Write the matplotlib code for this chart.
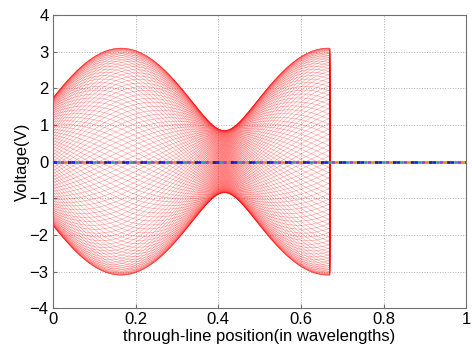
import numpy as np
import matplotlib
matplotlib.use("Agg")
import matplotlib.pyplot as plt

# values
line_length = 0.67      # wavelengths, where the red traces stop
v_max = 3.1             # envelope maximum (V)
v_min = 0.85            # envelope minimum (V)
x_peak = 0.165          # position of first envelope maximum
n_snapshots = 130       # time snapshots drawn
zero_colors = ["#1f1fff", "#20208a", "#e0902a", "#a040c0", "#30a0a0"]
x_ticks = [0, 0.2, 0.4, 0.6, 0.8, 1]
y_ticks = [-4, -3, -2, -1, 0, 1, 2, 3, 4]

plt.rcParams["font.family"] = ["Liberation Sans", "DejaVu Sans"]

fwd = (v_max + v_min) / 2
ref = (v_max - v_min) / 2
beta = 2 * np.pi
phi = 2 * beta * x_peak

x = np.linspace(0, line_length, 400)
phasor = fwd * np.exp(-1j * beta * x) + ref * np.exp(1j * (beta * x - phi))

fig = plt.figure(figsize=(4.72, 3.6), dpi=100)
ax = fig.add_axes([0.112, 0.144, 0.876, 0.814])

for wt in np.linspace(0, 2 * np.pi, n_snapshots, endpoint=False):
    v = np.real(phasor * np.exp(1j * wt))
    ax.plot(np.append(x, line_length), np.append(v, 0), color="red", lw=0.4, alpha=0.4, zorder=2)

seg = 1.3
gap = seg * (len(zero_colors) - 1)
for i, c in enumerate(zero_colors):
    ax.plot([0, 1], [0, 0], color=c, lw=2.0, zorder=3,
            linestyle=(i * seg, (seg, gap)), dash_capstyle="butt")

ax.set_xlim(0, 1)
ax.set_ylim(-4, 4)
ax.set_xticks(x_ticks)
ax.set_xticklabels(["0", "0.2", "0.4", "0.6", "0.8", "1"])
ax.set_yticks(y_ticks)
ax.grid(True, linestyle=":", color="#b0b0b0", lw=0.7)
ax.set_axisbelow(True)
for s in ax.spines.values():
    s.set_color("#707070")
    s.set_linewidth(0.8)
ax.tick_params(direction="in", length=3, color="#707070", labelsize=12, pad=3)
ax.set_xlabel("through-line position(in wavelengths)", fontsize=12, labelpad=1)
ax.set_ylabel("Voltage(V)", fontsize=12, labelpad=0)

fig.savefig("out.png", dpi=100)
